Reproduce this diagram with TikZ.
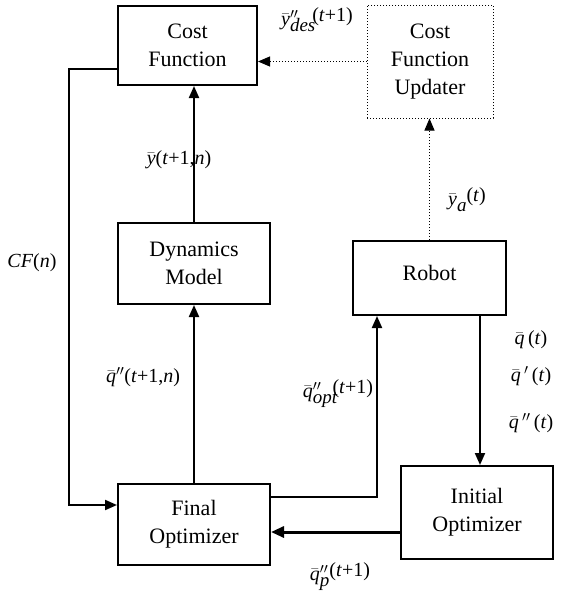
\documentclass[tikz,border=0pt]{standalone}
\usepackage{fontspec}
\setmainfont{Liberation Serif}
\usetikzlibrary{arrows.meta}
\newcommand{\vb}[1]{\ensuremath{\bar{\mbox{\textit{#1}}}}}
\newcommand{\dq}{\ensuremath{^{\prime\prime}}}
\newcommand{\sq}{\ensuremath{^{\prime}}}
\newcommand{\lsub}[1]{\raisebox{-6pt}{\fontsize{19}{22}\selectfont\textit{#1}}}
\newcommand{\lsup}[1]{\raisebox{4pt}{#1}}
\begin{document}
\begin{tikzpicture}[x=1pt,y=-1pt,
  blk/.style={draw,line width=2pt,align=center,inner sep=0pt,font=\fontsize{22}{28}\selectfont},
  dblk/.style={draw,dotted,line width=1pt,align=center,inner sep=0pt,font=\fontsize{22}{28}\selectfont},
  arr/.style={line width=2pt,-{Triangle[length=12pt,width=10pt]}},
  darr/.style={dotted,line width=1pt,-{Triangle[length=12pt,width=10pt]}},
  lbl/.style={inner sep=0pt,font=\fontsize{20}{24}\selectfont}]
\useasboundingbox (0,0) rectangle (565,598);
\node[blk,minimum width=139pt,minimum height=79pt] (cost) at (187.5,45.5) {Cost\\Function};
\node[dblk,minimum width=126pt,minimum height=113pt] (upd) at (430,61.5) {Cost\\Function\\Updater};
\node[blk,minimum width=152pt,minimum height=81pt] (dyn) at (194,263.5) {Dynamics\\Model};
\node[blk,minimum width=153pt,minimum height=74pt] (robot) at (429.5,278) {\raisebox{10pt}{Robot}};
\node[blk,minimum width=152pt,minimum height=81pt] (final) at (194,524.5) {Final\\Optimizer};
\node[blk,minimum width=152pt,minimum height=93pt] (init) at (477,512.5) {Initial\\Optimizer};
% connectors
\draw[arr] (dyn.north) -- (dyn.north |- cost.south);
\draw[darr] (upd.west) -- (upd.west -| cost.east);
\draw[darr] (robot.north) -- (robot.north |- upd.south);
\coordinate (fbA) at ([yshift=-23.5pt]cost.west);
\coordinate (fbB) at ([yshift=19.5pt]final.west);
\draw[arr] (fbA) -- ++(-48,0) |- (fbB);
\draw[arr] (final.north) -- (final.north |- dyn.south);
\coordinate (foE) at ([yshift=27.5pt]final.east);
\coordinate (rbS) at (377,315);
\draw[arr] (foE) -| (robot.south -| rbS);
\coordinate (rbS2) at (480,315);
\draw[arr] (robot.south -| rbS2) -- (rbS2 |- init.north);
\coordinate (ioW) at ([yshift=-19.5pt]init.west);
\draw[line width=3pt,-{Triangle[length=13pt,width=11pt]}] (ioW) -- (ioW -| final.east);
% labels
\node[lbl] (l1) at (317,20) {\vb{y}\rlap{\dq}\lsub{des}\kern-3pt\lsup{(\textit{t}+1)}};
\node[lbl] (l2) at (179,160) {\vb{y}(\textit{t}+1,\textit{n})};
\node[lbl] (l3) at (32,263) {\textit{CF}(\textit{n})};
\node[lbl] (l4) at (467,200) {\vb{y}\lsub{a}\lsup{(\textit{t})}};
\node[lbl] (l5) at (531,340) {\vb{q}\,(\textit{t})};
\node[lbl] (l6) at (531,376) {\vb{q}\,\sq\,(\textit{t})};
\node[lbl] (l7) at (531,423) {\vb{q}\,\dq\,(\textit{t})};
\node[lbl] (l8) at (143,377) {\vb{q}\dq(\textit{t}+1,\textit{n})};
\node[lbl] (l9) at (338,394) {\vb{q}\rlap{\dq}\lsub{opt}\kern-5pt\lsup{(\textit{t}+1)}};
\node[lbl] (l10) at (340,577) {\vb{q}\rlap{\dq}\lsub{p}\lsup{(\textit{t}+1)}};
\end{tikzpicture}
\end{document}
